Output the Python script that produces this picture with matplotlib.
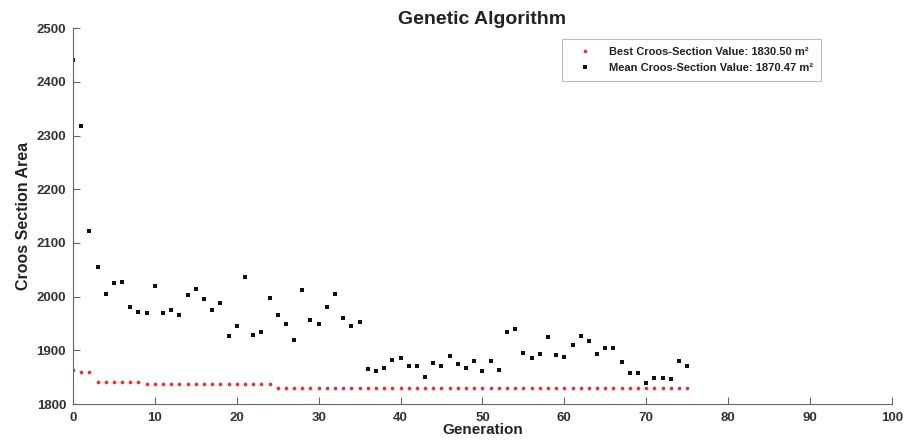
import numpy as np
import matplotlib.pyplot as plt

plt.rcParams['font.family'] = ['Liberation Sans', 'DejaVu Sans']

# generations and values
generation = np.arange(0, 76)

mean_vals = [2440, 2318, 2122, 2055, 2005, 2025, 2028, 1980, 1972, 1970,
             2020, 1970, 1975, 1965, 2003, 2015, 1995, 1975, 1988, 1927,
             1945, 2037, 1928, 1935, 1997, 1965, 1950, 1920, 2012, 1957,
             1950, 1980, 2005, 1960, 1945, 1952, 1865, 1862, 1868, 1882,
             1885, 1870, 1870, 1850, 1877, 1870, 1890, 1875, 1868, 1880,
             1862, 1880, 1863, 1935, 1940, 1895, 1885, 1893, 1925, 1892,
             1888, 1910, 1927, 1918, 1893, 1905, 1905, 1878, 1858, 1858,
             1840, 1848, 1848, 1846, 1880, 1870.47]

best_vals = [1864, 1859.5, 1859.5] + [1842] * 6 + [1836.5] * 16 + [1830.5] * 51

best_label = 'Best Croos-Section Value: 1830.50 m\u00b2'
mean_label = 'Mean Croos-Section Value: 1870.47 m\u00b2'

fig = plt.figure(figsize=(9.12, 4.46), dpi=100)
ax = fig.add_axes([0.080, 0.094, 0.898, 0.843])

ax.plot(generation, best_vals, 'o', color='#d83a3a', markersize=2.7,
        markeredgewidth=0, label=best_label)
ax.plot(generation, mean_vals, 's', color='#111111', markersize=2.6,
        markeredgewidth=0, label=mean_label)

ax.set_xlim(0, 100)
ax.set_ylim(1800, 2500)
ax.set_xticks(np.arange(0, 101, 10))
ax.set_yticks(np.arange(1800, 2501, 100))

for side in ['top', 'right']:
    ax.spines[side].set_visible(False)
for side in ['left', 'bottom']:
    ax.spines[side].set_color('#666666')
    ax.spines[side].set_linewidth(0.8)

ax.tick_params(direction='in', length=5, width=0.8, color='#666666',
               labelsize=9.5, labelcolor='#333333')
ax.tick_params(axis='x', pad=6)
ax.tick_params(axis='y', pad=5)
for lbl in ax.get_xticklabels() + ax.get_yticklabels():
    lbl.set_fontweight('bold')

ax.set_xlabel('Generation', fontsize=11, fontweight='bold', color='#222222', labelpad=-1)
ax.set_ylabel('Croos Section Area', fontsize=11.5, fontweight='bold', color='#222222', labelpad=4)
ax.set_title('Genetic Algorithm', fontsize=14, fontweight='bold', color='#222222', pad=3)

leg = ax.legend(loc='upper right', bbox_to_anchor=(0.92, 0.985), fontsize=8,
                frameon=True, fancybox=False, edgecolor='#aaaaaa',
                handlelength=2.6, handletextpad=0.9, borderpad=0.7,
                labelspacing=0.55, markerscale=1.0)
for t in leg.get_texts():
    t.set_fontweight('bold')
    t.set_color('#222222')
leg.get_frame().set_linewidth(0.8)

fig.savefig('out.png', dpi=100)
